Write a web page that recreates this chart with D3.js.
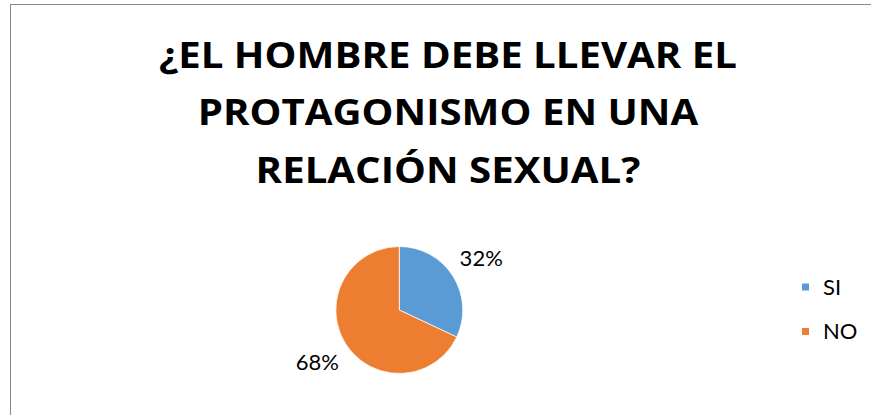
<!DOCTYPE html>
<html>
<head>
<meta charset="utf-8">
<script src="https://cdn.jsdelivr.net/npm/d3@7"></script>
<style>
  body { margin: 0; background: #fff; }
  svg { display: block; }
</style>
</head>
<body>
<div id="chart"></div>
<script>
// data
var categories = ["SI", "NO"];
var values = [32, 68];
var labels = ["32%", "68%"];
var titleLines = ["¿EL HOMBRE DEBE LLEVAR EL", "PROTAGONISMO EN UNA", "RELACIÓN SEXUAL?"];
var colors = ["#5B9BD5", "#ED7D31"];

var width = 871, height = 415;

var svg = d3.select("#chart")
  .append("svg")
    .attr("width", width)
    .attr("height", height);

// chart border (runs off right / bottom edge)
svg.append("rect")
  .attr("x", 10.5)
  .attr("y", 4.5)
  .attr("width", width + 20)
  .attr("height", height + 20)
  .attr("fill", "#fff")
  .attr("stroke", "#898989")
  .attr("stroke-width", 1);

// title - stretched a bit horizontally, the original font is wider
var bodyFont = "Lato, 'Open Sans', sans-serif";
var titleFont = "'Open Sans', Lato, sans-serif";
var titleWidth = 578;
var title = svg.append("g");
title.selectAll("text")
  .data(titleLines)
  .enter()
  .append("text")
    .attr("x", 0)
    .attr("y", function(d, i) { return 68 + i * 57.5; })
    .attr("text-anchor", "middle")
    .attr("font-family", titleFont)
    .attr("font-weight", "bold")
    .attr("font-size", 35.5)
    .attr("fill", "#000")
    .text(function(d) { return d; });
var w0 = title.select("text").node().getComputedTextLength();
title.attr("transform", "translate(448,0) scale(" + (titleWidth / w0) + ",1)");

// pie
var cx = 399.3, cy = 310, r = 63.5;
var pie = d3.pie().sort(null).value(function(d) { return d; });
var arcs = pie(values);
var arc = d3.arc().innerRadius(0).outerRadius(r);
var labelArc = d3.arc().innerRadius(97).outerRadius(97);

var g = svg.append("g")
  .attr("transform", "translate(" + cx + "," + cy + ")");

g.selectAll("path")
  .data(arcs)
  .enter()
  .append("path")
    .attr("d", arc)
    .attr("fill", function(d, i) { return colors[i]; })
    .attr("stroke", "#fff")
    .attr("stroke-width", 0.75);

g.selectAll("text")
  .data(arcs)
  .enter()
  .append("text")
    .attr("transform", function(d) { return "translate(" + labelArc.centroid(d) + ")"; })
    .attr("text-anchor", "middle")
    .attr("dy", "0.35em")
    .attr("font-family", bodyFont)
    .attr("font-size", 22)
    .attr("fill", "#000")
    .text(function(d, i) { return labels[i]; });

// legend
var legend = svg.append("g")
  .attr("transform", "translate(802,287)");

var item = legend.selectAll("g")
  .data(categories)
  .enter()
  .append("g")
    .attr("transform", function(d, i) { return "translate(0," + (i * 44.5) + ")"; });

item.append("rect")
  .attr("x", 0)
  .attr("y", -3.5)
  .attr("width", 7)
  .attr("height", 7)
  .attr("fill", function(d, i) { return colors[i]; });

item.append("text")
  .attr("x", 21)
  .attr("dy", "0.35em")
  .attr("font-family", bodyFont)
  .attr("font-size", 22)
  .attr("fill", "#000")
  .text(function(d) { return d; });
</script>
</body>
</html>
